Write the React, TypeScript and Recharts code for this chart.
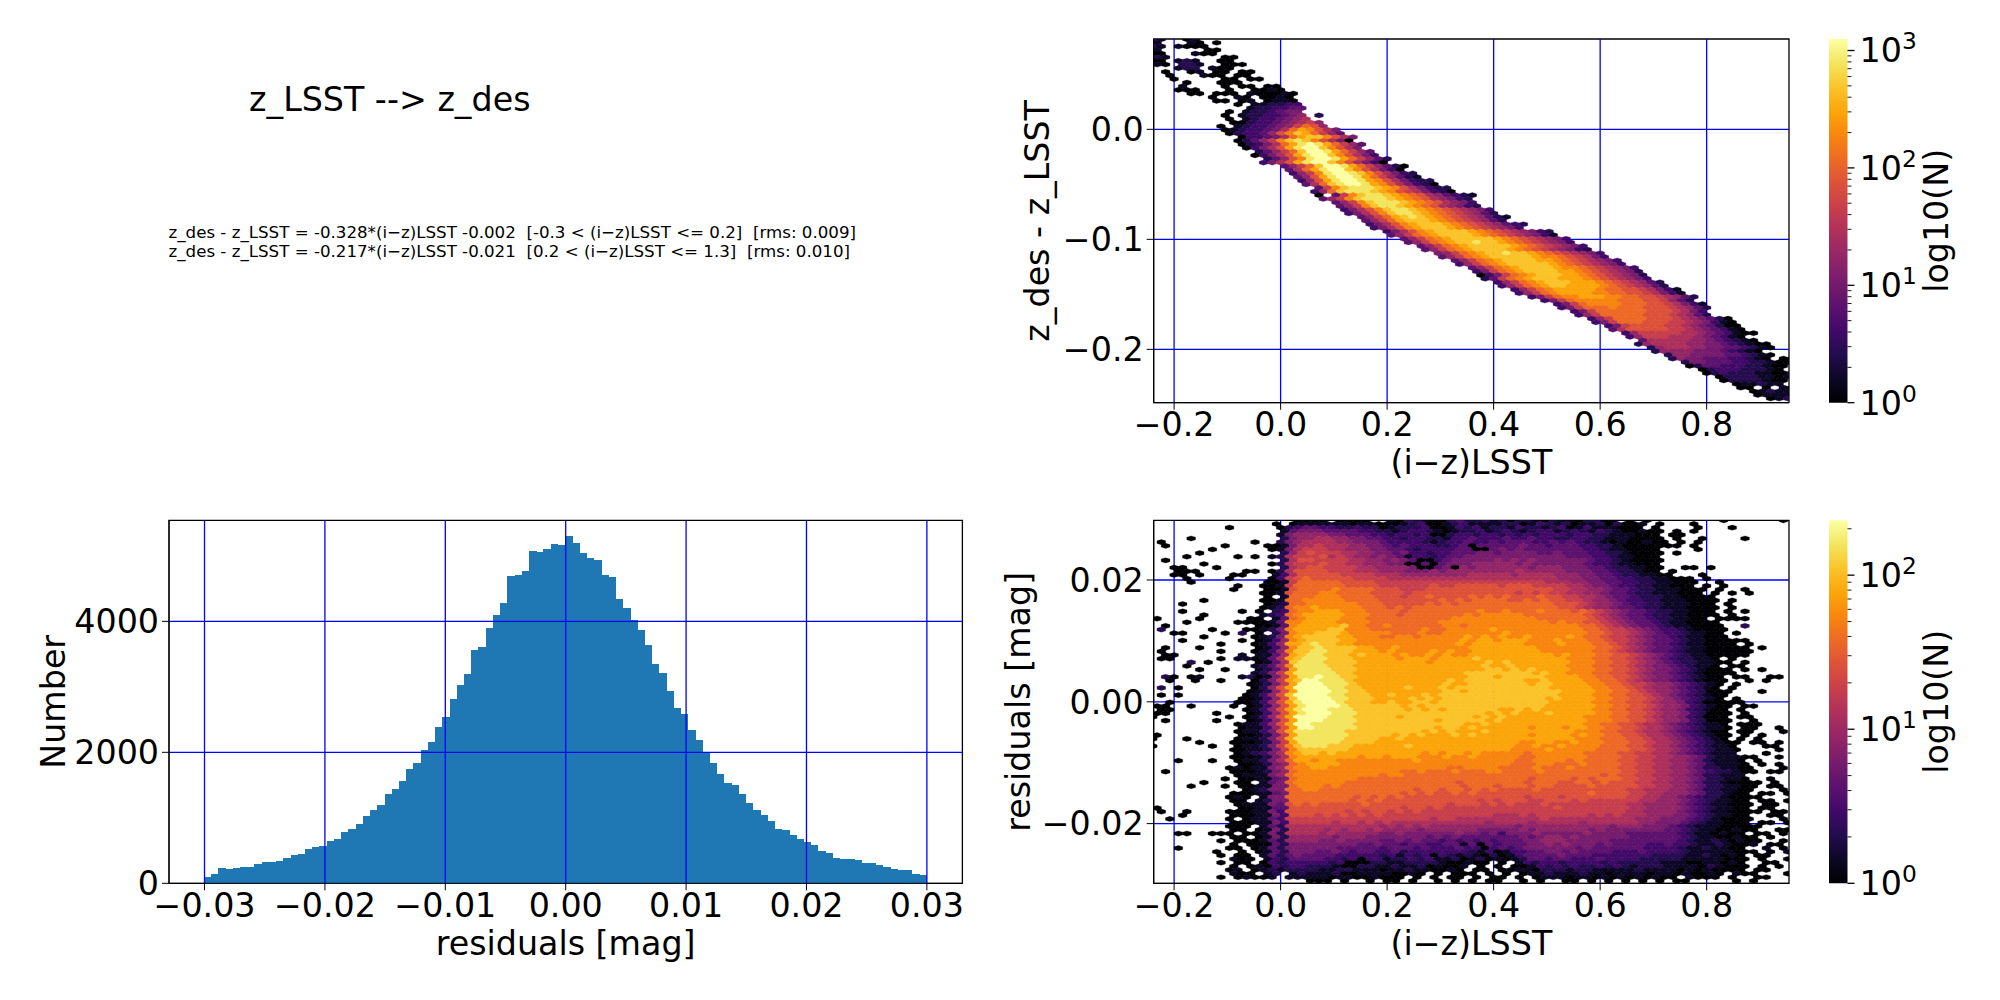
import { ComposedChart, ScatterChart, Scatter, Bar, Line, XAxis, YAxis, ReferenceLine, ReferenceArea } from 'recharts';

const FONT = '"DejaVu Sans", sans-serif';
const TICK = { fill: '#000', fontSize: 33.3, fontFamily: FONT };
const LABEL = { fill: '#000', fontSize: 33.3, fontFamily: FONT, textAnchor: 'middle' as const };

// inferno, sampled in 16 steps. The hex digits in the rows below index this list.
const shades = ['#000004', '#0c0826', '#240c4f', '#420a68', '#5c126e', '#781c6d', '#932667', '#ad305c', '#c73e4c', '#dd513a', '#ed6925', '#f8850f', '#fca50a', '#fbc32a', '#f3e55e', '#fcffa4'];

const title = 'z_LSST --> z_des';
const fitLines = [
  'z_des - z_LSST = -0.328*(i\u2212z)LSST -0.002  [-0.3 < (i\u2212z)LSST <= 0.2]  [rms: 0.009]',
  'z_des - z_LSST = -0.217*(i\u2212z)LSST -0.021  [0.2 < (i\u2212z)LSST <= 1.3]  [rms: 0.010]',
];

const histCounts = [92, 127, 219, 204, 219, 234, 244, 280, 310, 310, 326, 372, 417, 433, 509, 539, 555, 631, 662, 768, 814, 891, 1013, 1104, 1181, 1349, 1425, 1547, 1730, 1822, 2020, 2142, 2371, 2524, 2799, 3013, 3181, 3547, 3593, 3883, 4081, 4265, 4677, 4692, 4753, 5058, 5043, 5089, 5165, 5150, 5287, 5181, 5028, 4952, 4921, 4692, 4661, 4326, 4188, 4005, 3852, 3623, 3333, 3196, 2921, 2661, 2570, 2326, 2173, 2000, 1822, 1654, 1517, 1486, 1349, 1211, 1104, 1028, 936, 814, 799, 723, 662, 616, 570, 478, 448, 372, 356, 356, 341, 295, 295, 265, 234, 204, 188, 188, 127, 112];
const histTicksX = [-0.03, -0.02, -0.01, 0, 0.01, 0.02, 0.03];
const histTicksY = [0, 2000, 4000];

const colorTicksX = [-0.2, 0, 0.2, 0.4, 0.6, 0.8];
const fitTicksY = [-0.2, -0.1, 0];
const resTicksY = [-0.02, 0, 0.02];
const fitBarTicks = [1, 2, 3, 4, 5, 6, 7, 8, 9, 10, 20, 30, 40, 50, 60, 70, 80, 90, 100, 200, 300, 400, 500, 600, 700, 800, 900, 1000];
const resBarTicks = [1, 2, 3, 4, 5, 6, 7, 8, 9, 10, 20, 30, 40, 50, 60, 70, 80, 90, 100, 200];

// top right hexbin, one row per lattice line from the top: first column, then shades
const fitStarts = [0, 0, 0, 0, 0, 0, 0, 0, 0, 0, 0, 0, 0, 0, 0, 0, 0, 0, 10, 10, 9, 8, 9, 9, 8, 8, 9, 9, 10, 10, 11, 11, 12, 12, 13, 15, 16, 16, 17, 17, 18, 19, 19, 19, 20, 21, 22, 22, 23, 24, 25, 25, 26, 27, 28, 29, 30, 31, 32, 33, 34, 35, 36, 37, 38, 38, 39, 40, 41, 42, 43, 44, 46, 47, 48, 49, 50, 51, 52, 53, 54, 55, 56, 57, 57, 58, 59, 60, 61, 62, 63, 64, 65, 66, 67, 68, 69, 70, 71, 72];
const fitRows = [
  '21..01', '1...10.0', '21.1000', '1.....00', '00...100', '21......00', '00.121..00', '10.221..000', '...122.100', '.0..01.00.00',
  '..0...100.00', '..0.....00.00', '....0...000', '...1....0.00.00', '...000...0..0010', '....00.000.100010', '.......0..10.0010', '.......00.01.0110',
  '0.112233', '.1223344', '0.1223455', '0.12233456.2', '0.12334567', '00233456786', '0.12334568a96', '01233457acb975', '0233469bdca864', '.033457acddb975',
  '02468bdedb9750', '02357acefeca864', '03579ceffdb975', '.2468adffeca864', '03579ceffdb9753', '.2469beffeca8642', '3579ceffdb97530', '468adffeca86420',
  '47aceffdb97530', '368beffedb97532', '469ceffeca86421', '369ceffecb975322', '47adeffecb975320', '48bdeeedcb975322', '36adeeedcb9875320', '0.48bdeedcba9764321',
  '468bdeeedcba976532', '468bdeeedcba97653', '468bdeedcba976532', '3579bdeedcba987653', '3579bdeedcba987642', '468acdedcba9876421', '468acdddcba987642', '3579bcdddcba9876432',
  '3579bcdddcba987653', '3579bcddddcba9876532', '468abcddddcba9876531', '468abcdddddcba987653', '468abcddeddcba987653', '468abcdddddcba987653', '468abcddddcba9876532', '568abcddeddcba987653',
  '468abcdddddcbba98753', '468abcddddccba987653', '368abcdddddcba987653', '468abcddddcbba987653', '358abcddddccba987652', '0358abcdddccba987652', '248abcdddcccba987653', '368abcdddcccba987642',
  '368abcddccccba987642', '368abcccccbaa9987531', '368abccccbbaa9987531', '358abbcccbbaa9987642', '358abbbbbaaa998642', '358abbbbaaa9987531', '358aaabaaa99987642', '358aaaaaa9998753',
  '368aaaaa99987642', '368aaaa9998765420', '358aaa99988765310', '3589999887654200', '4799999887654310', '3688888776543100', '36888777654310', '47777766543210',
  '2677776655432100', '267776655443210', '2666655543210', '2665555443210', '265544433210.00', '2554443322100', '024433322100', '0233322210.1',
  '02322211001', '0222211011', '02222100', '011211.0', '00.0.1010', '0121101', '011101', '0120',
];

// bottom right hexbin, 75 columns written in groups of five, from the top row down
const resRows = [
  '..... ..... ..... ..000 0.000 0..10 32100 34223 12022 10211 02200 .0.0. ..... ..0.. ....0',
  '..... ..... ....0 .0111 11101 10001 23001 23111 12201 32120 11202 001.0 ...0. ..... .....',
  '..... ....0 ..... 02344 33223 22012 22300 13231 22132 21230 13111 000.0 ....0 ...0. .....',
  '..... ..... ..... 14555 44443 32212 33210 12231 23212 33123 21321 00100 .0.0. ..... .....',
  '..... ..... ..... 15666 65544 43323 32300 23323 32323 23332 33221 11000 .00.. ..... .....',
  '....0 ..... ..... 25667 76655 44332 33221 33433 34334 33223 32211 10000 .0..0 ....0 .....',
  '.0... ..... ..0.. 25677 77665 55433 33212 33433 43444 33434 32210 10010 0.0.0 ..... .....',
  '.0... ...0. ...00 15778 77766 55434 33322 34044 44454 43444 33221 00000 00.0. ..... .....',
  '..... ..0.. ....0 15788 87766 65544 32333 34400 45454 44444 43321 10000 ....0 ..... .....',
  '..... 0.... ..... 26898 88776 65545 33233 44455 45555 44544 43322 10000 .0... ..... .....',
  '....0 ..... 0.0.1 27888 97876 65654 13323 44555 55555 55554 44332 11000 ..... ..... .....',
  '.0... ..... ..... 27998 88877 66565 40034 55555 65656 55555 54332 10000 ..... ..... .....',
  '..... .0... ....0 27888 98877 66655 00404 55566 66656 55555 54332 11000 ..... ..... .....',
  '..00. ..0.. ..... 27899 88887 76666 50045 06566 66665 66655 54432 21100 ..00. 0.... .....',
  '...00 0.... .00.0 27999 98887 77666 55565 66666 66676 66665 55443 22100 .0... ..... .....',
  '..00. 0...0 0...1 37999 99888 87776 66666 66777 77677 77666 55443 22110 0...0 ..... .....',
  '....0 ....0 ....0 389a9 99998 88877 77777 77777 77777 77766 65544 33221 1000. 0.... .....',
  '....0 ..... ...00 18aaa aa999 98888 88888 88888 88888 87776 65544 33221 1000. .0... .....',
  '..... ..... 0..00 18aaa aaa99 99888 88898 89999 98999 88887 76554 33221 1000. 0.0.. .....',
  '..... ....0 ...00 19aaa abaaa a9998 88999 99999 99999 99887 76654 43221 11000 .0..0 .....',
  '..... ..... ...00 19aaa bbaaa a9999 89999 99999 99989 89887 76654 43221 11000 .0.0. 0....',
  '..... ..... ...0. 1aaab bbaaa a9998 99a99 99a9a 9a999 a9988 77654 43222 11000 0.... .....',
  '..... .0... ...00 1aabb bbbaa aa999 9999a 9a9aa aa99a 9a998 87665 43322 11100 00.0. .....',
  '...0. ..... ...01 2aabb bbbba aa999 99a9a 9aaaa aaaaa aa999 87665 43322 11100 0.0.. .....',
  '..... ..... ...01 2abbc bbbbb aaa9a 9aaaa aaaaa aaaaa aaa99 87665 44322 11100 00.0. .....',
  '...0. ..... 0.0.2 3abbc ccbbb aaaa9 aaaaa aaaba abaaa baaa9 a9876 54432 21100 0.0.0 .....',
  '..... .0... ...12 3abcc cccbb baaa9 aaaaa aabab bbbba aaaaa a9876 54432 21100 00.0. .....',
  '0.... 0.... .00.1 4abcc ccbbb aaaaa aaaaa bbbbb bbbbb aaaaa a9876 54432 21100 .0000 .....',
  '....0 ..... 00001 4bbcc ccbbb baaaa aaaab bbbbb bbbbb bbaba a9987 65443 21100 00... .....',
  '.0... ..... ..001 4bccc ccdbb aabaa aaaab babbb bbbbb bbbbb aa987 65443 21100 00..2 .....',
  '.2... ..0.. .0012 5bccc cddbb baaaa aabaa bbbbb cbbbb bbbbb baa98 87654 33210 000.. .....',
  '..00. ...0. 2.0.2 5bccd ddcbb bbbaa abaab bbbbb bcbbb bbbbb baa98 87654 33211 00.0. .....',
  '..... .0... ..012 5bcdd ddccb bbaab babbb bbcbc bcbbc bbbbc baa98 87654 43211 000.. .....',
  '...0. ..... 0.013 6bcdd ddccb bbbbb bbbbb bcbcc bcccb bbcbb baa98 87654 43211 00000 .....',
  '..... ...0. ..013 6ccde ddccb bbbbb bbbbb bcbcc ccccb bbbcb bbaa9 87654 43211 0000. 0....',
  '.0... 0.... ..013 6bdde ddddc cbbcb bbbbb bbccc ccccc bbbbb bbaa9 87654 43211 00000 .0...',
  '.0... ...0. ..013 6bdde edddc ccbcb bbbcb cbbcc ccccc cbbbb bbaa9 87654 43211 00000 0....',
  '.00.. ..... 1.114 7cdee dddcd cccbc bbcbc bbccc ccccc ccbcb bbaa9 98765 43211 00000 .....',
  '.00.. ...0. 11014 7cdee edddc ccccb cccbc cccdc ccccc ccccb bbaa9 98765 43221 10.0. .....',
  '....2 .0... ..014 7deee ddddc ccccc ccbcc ccccd cdccc ccccb bbaa9 98765 43221 100.0 .....',
  '....0 ..... ..124 7beee edddc ccccc ccccc ccccd ccdcc ccccb bbaa9 98765 54321 10.00 .....',
  '..... 0..0. ..124 7ceee edddc ccccc ccccc ccccd dcdcd ccccb bbaa9 98765 54321 000.0 .0...',
  '..... ..... ..125 8ceee eeddc ccccc ccccc ccddd ddddd cdccb bbaa9 98765 54321 0000. .....',
  '.20.0 1.... 12015 8ceef eeddc ccccc ccccc ccddd cdddd dcccc bbaa9 98765 54321 00.00 ..00.',
  '..0.. 0..0. ..025 8cdff eeedc ccccc ccccc dcddd ddddc cdccc cbbaa 98765 54321 000.. 0.0..',
  '..... ..... .0125 8cfff eeedc ccccc ccccd ccddd ddddc ddccc cbbaa 98876 65432 10.0. .....',
  '.2.0. ..... ..026 9cfff feedd ccccc dcccd cdddd ddddd ddccc ccbba a9876 65432 10.0. .....',
  '..... ..... .0126 9cfff feedd ccccc ccccd dcddd ddddd dddcc ccbba a9876 65432 000.. .0...',
  '.0.0. ..... .0136 9dfff feedd dccdc ccdcd ddddd ddddd dddcc ccbba a9987 65432 100.. .....',
  '..... ..... 00136 9dfff feedd dcccc dcdcd ddddd ddddd dcdcc ccbba a9987 65432 10.0. .....',
  '..0.. ..... 00136 9ceff ffedd dccdc cddcd ddddd ddddd ddccc ccbba a9987 66532 00000 .....',
  '00..0 ....0 .0136 9ceff ffedd ddddc dcddd ddddd ddddd dcccc ccbba a9987 66532 100.0 0....',
  '.00.. ..... .0136 9ceff feeed ddddd cdcdc ddddd dccdc dcccc ccbba a9987 66532 100.0 .....',
  '00... ..0.. .0136 9ceff feeed ddddd ddddd ddddc dcdcc cdccc ccbba a9987 66532 000.0 .....',
  '0.... ....0 .0136 9cfff feeed ddddc ddddd dddcd cdccc ccccc cbbba a9987 66532 000.0 0....',
  '.0... ..0.. .0136 9cfff eeeed ddddd dddcd ddddc dcccc ccccc cbbba a9987 66532 000.. 0....',
  '..... ..... 01136 9cffe eeeed ddddd ddddd ddccd ccccc ccccc cbbaa 99877 65432 110.0 00...',
  '..... ..... 01136 9cffe eeeed ddddd dddcd dcdcc ccccb cccbc cbbaa 99877 65432 110.0 0..0.',
  '..... ..... 01135 9ceee eeedd ddddd ddcdc dcccd ccccc ccccc bbbaa 99877 65432 100.0 0...0',
  '0.... ..... 00125 8ceee eeedd dddcd cdccc dcdcc ccccb ccccb cbbaa 99877 65432 100.0 .0...',
  '0...0 ..... 01125 8ceee eeedd ddccd ccccc ccccc ccccc ccccc bbbaa a9987 76543 210.0 .0...',
  '..... 0...0 00125 8ceee eeddd dcccc ccccc ccccc cccbb ccbbc bbbaa a9987 76543 2100. 00.0.',
  '0.... ..0.. 01125 8bdee edddc ccccc dcccc ccccc cccbb cbbcb bbbaa a9987 76543 2110. ..00.',
  '..... ....0 01125 8bddd dddcc ccccc ccccc ccccc ccbbb bcbbb bbaaa a9987 76543 2110. ...0.',
  '..... ..... 01235 7bcdd cdccc ccccc ccbcb ccbcb bbbba bbbbb baaaa 99887 76543 2111. ..0..',
  '..... ....0 00125 7bccc ccccb ccbcc cbbbc bbcbb bbbaa bbbbb baaaa 99887 76654 21110 0..0.',
  '...0. ..0.. 01125 7accb ccbbb bbbbb bcbbb bbbbb bbbaa bbbba baaaa 99887 76654 21110 .0...',
  '..... ..... 00125 6abcc ccbbb bbbbb bbbbb bbbbb bbaaa bbaaa baaaa 99887 76654 21110 .0.0.',
  '..... ....0 10115 6abbc cbbbb bbbbb bbbbb aabbb baaaa baaab aaaaa 99887 76654 22110 0...0',
  '.0... ....0 00125 6abbb bbbbb bbbba abaaa baaab baaaa baaaa aaaaa 99887 76654 32210 0.00.',
  '..... ..... 01115 6abbb bbbbb bbabb aaaaa aaaaa aaaaa aaaaa aaa9a 99887 76654 22111 .....',
  '..... ...0. 00114 5abbb bbbba aaaaa aaaaa aaaaa aaaa9 aaaa9 a9aaa 99887 76654 22110 ..0..',
  '..... .0... 00.14 5abbb bbbaa aaaaa aaaaa a9aaa aaaa9 aaa99 aa9a9 99887 76654 22100 00.0.',
  '....0 ...0. 00115 5abbb abaaa aaaaa aaaaa a9aaa 9aaa9 aa999 9a999 99887 76654 22110 0.00.',
  '..... ..... .0125 5aabb aaaaa aaaaa a9aa9 aa9a9 a9999 a9999 99999 98877 76654 22110 0...0',
  '..... ....0 00114 5aaaa aaaaa aaaa9 a9a99 a9a99 99999 99999 9a999 98877 66654 22100 .00.0',
  '..... ....0 10.15 5aaaa aaaa9 a9a9a 99999 99999 99998 99989 99999 98877 66543 22100 00...',
  '..... ....0 0.125 5aaaa aaa9a 9a999 99999 99989 89998 89998 98888 88776 66543 21100 .00.0',
  '..... ..... 01115 49a9a 99999 a9999 99999 89998 98988 89888 88888 87766 66543 21100 0.00.',
  '0.... ..... 00114 49999 99999 99998 99898 88888 88888 88988 88888 87766 66543 21100 .00..',
  '.0..0 ....0 00115 39999 99989 89989 89888 88888 88888 88888 88888 87766 66543 21100 00.00',
  '...0. ....0 00115 39998 98989 89888 88888 88888 77787 88888 87878 77766 65543 21100 ..00.',
  '..0.. ....0 .0114 38888 88888 88888 88878 87777 77777 78777 77777 77666 55543 21000 0...0',
  '..... ....0 00115 38888 87887 87877 77777 77776 77776 77777 67777 77665 55432 11000 .00.0',
  '..... ....0 00.14 27777 77777 77676 76766 66666 66656 66666 66665 66655 54321 11000 00...',
  '..... ....0 0.015 27777 67677 67666 65666 66655 55565 66666 65655 55555 44321 10010 0..00',
  '...00 ..000 .0015 27777 67666 66556 55555 56554 53555 65555 56555 54444 44321 10100 .00.0',
  '..... ....0 0.015 26666 65666 55555 55454 54444 44454 56656 55555 54444 44321 10010 0.0..',
  '..... ...0. 00014 26666 55655 55445 45443 43434 34445 56665 55554 44444 44321 12101 00..0',
  '..... ....0 .0004 25555 55554 45443 44334 41404 34445 56565 55454 44433 43321 12100 1.00.',
  '...0. ....0 0.014 25555 55444 44344 43433 34330 34345 55555 45444 44433 33211 21100 ..1.0',
  '..... ..0.. 0.014 25554 45434 43342 33333 33213 01334 45545 44443 33433 33211 11100 0.0.1',
  '..... ...0. 00.14 24544 44333 33231 32303 21210 20134 44454 44333 33332 22211 21010 .00..',
  '..... ....1 00.13 24444 33230 33122 32311 20120 10124 43443 33433 33222 22111 11000 .0..0',
  '..... ...0. 00.03 23333 32300 02211 22221 00100 .0.13 23323 33323 22222 11100 11010 ..00.',
  '..... ....0 .0103 23322 21002 21121 12010 01.0. 0.001 32323 22323 21222 11110 21000 .0.0.',
  '..... ....0 1.012 12222 11221 11011 21100 10.00 .0011 02221 22111 11211 11010 10000 .00..',
  '..... ....1 00.12 .1211 12001 11100 10.0. 000.0 .0.01 12111 21101 11101 10100 10.10 0...0',
  '..... ...0. 01001 .1111 10110 01000 .0.0. 00.0. 00.0. 01110 11010 10101 00.10 00.0. .00..',
  '..... ..... ..... ...00 0.0.. 0.00. 0..0. 0.0.0 0..0. 0..00 .0.0. 0.0.0 .00.. ...0. 0....',
];

type Cell = { x: number; y: number; shade: number };

const COL_STEP = 0.016;
const FIRST_COL = -0.24;

const cellsFrom = (rows: string[], starts: number[] | null, top: number, rowStep: number) => {
  const cells: Cell[] = [];
  rows.forEach((raw, row) => {
    const col = starts ? starts[row] : 0;
    raw.replace(/ /g, '').split('').forEach((ch, i) => {
      if (ch === '.') return;
      cells.push({
        x: FIRST_COL + (col + i + (row % 2 ? 0.5 : 0)) * COL_STEP,
        y: top - row * rowStep,
        shade: parseInt(ch, 16),
      });
    });
  });
  return cells;
};

const fitCells = cellsFrom(fitRows, fitStarts, 0.082, 0.0033);
const resCells = cellsFrom(resRows, null, 0.0298, 0.000598);

const histData = histCounts.map((count, i) => ({ center: -0.03 + (i + 0.5) * 0.0006, count }));

const HexCell = (props: any) => {
  const { cx, cy, payload } = props;
  const c = shades[payload.shade];
  const pts = [[0, -2.6], [4.35, -1.3], [4.35, 1.3], [0, 2.6], [-4.35, 1.3], [-4.35, -1.3]].map(([a, b]) => `${cx + a},${cy + b}`).join(' ');
  return <polygon points={pts} fill={c} stroke={c} strokeWidth={0.3} />;
};

const minus = (s: string) => s.replace('-', '\u2212');

const gridLines = (xs: number[], ys: number[]) => [
  ...xs.map((v) => <ReferenceLine key={`x${v}`} x={v} stroke="#0000ff" strokeWidth={1.3} />),
  ...ys.map((v) => <ReferenceLine key={`y${v}`} y={v} stroke="#0000ff" strokeWidth={1.3} />),
];

function HexPanel(props: { top: number; boxH: number; plotTop: number; plotH: number; cells: Cell[]; yDomain: number[]; yTicks: number[]; digits: number; yLabel: string; labelX: number }) {
  const { top, boxH, plotTop, plotH, cells, yDomain, yTicks, digits, yLabel, labelX } = props;
  return (
    <div style={{ position: 'absolute', left: 1000, top }}>
      <ScatterChart width={799} height={boxH} margin={{ top: plotTop, right: 10, bottom: 0, left: 0 }}>
        <XAxis
          type="number"
          dataKey="x"
          domain={[-0.2383, 0.9546]}
          ticks={colorTicksX}
          allowDataOverflow
          height={boxH - plotTop - plotH}
          tick={TICK}
          tickSize={7}
          tickMargin={3}
          interval={0}
          stroke="#000"
          tickFormatter={(v: number) => minus(v.toFixed(1))}
          label={{ value: '(i\u2212z)LSST', position: 'insideTop', offset: 48, style: LABEL }}
        />
        <YAxis
          type="number"
          dataKey="y"
          domain={yDomain}
          ticks={yTicks}
          allowDataOverflow
          width={153.7}
          tick={TICK}
          tickSize={7}
          tickMargin={3}
          interval={0}
          stroke="#000"
          tickFormatter={(v: number) => minus(v.toFixed(digits))}
          label={{ value: yLabel, angle: -90, position: 'insideLeft', offset: labelX, style: LABEL }}
        />
        <Scatter data={cells} shape={HexCell} isAnimationActive={false} />
        {gridLines(colorTicksX, yTicks)}
        <ReferenceArea x1={-0.2383} x2={0.9546} y1={yDomain[0]} y2={yDomain[1]} fill="none" stroke="#000" strokeWidth={1.3} />
      </ScatterChart>
    </div>
  );
}

const BarTick = (props: any) => {
  const { x, y, payload } = props;
  const v = payload.value as number;
  const exp = Math.log10(v);
  const major = Number.isInteger(Math.round(exp * 1000) / 1000);
  return (
    <g>
      <line x1={x} x2={x + (major ? 7 : 4)} y1={y} y2={y} stroke="#000" strokeWidth={major ? 1.3 : 0.9} />
      {major && (
        <text x={x + 12} y={y + 12} fontFamily={FONT} fontSize={33.3} fill="#000">
          10
          <tspan dy={-13} fontSize={23.3}>{Math.round(exp)}</tspan>
        </text>
      )}
    </g>
  );
};

function ColorBar(props: { id: string; top: number; boxH: number; plotTop: number; plotH: number; vmax: number; ticks: number[] }) {
  const { id, top, boxH, plotTop, plotH, vmax, ticks } = props;
  const ends = [{ a: 0, n: 1 }, { a: 1, n: vmax }];
  return (
    <div style={{ position: 'absolute', left: 1828.5, top }}>
      <ComposedChart width={171} height={boxH} data={ends} margin={{ top: plotTop, right: 0, bottom: boxH - plotTop - plotH, left: 0 }}>
        <defs>
          <linearGradient id={id} x1="0" y1="1" x2="0" y2="0">
            {shades.map((c, i) => (
              <stop key={c} offset={i / (shades.length - 1)} stopColor={c} />
            ))}
          </linearGradient>
        </defs>
        <XAxis type="number" dataKey="a" domain={[0, 1]} hide />
        <YAxis
          orientation="right"
          scale="log"
          type="number"
          dataKey="n"
          domain={[1, vmax]}
          ticks={ticks}
          interval={0}
          allowDataOverflow
          width={152.5}
          tick={BarTick}
          tickLine={false}
          tickSize={0}
          tickMargin={0}
          axisLine={false}
          label={{ value: 'log10(N)', angle: -90, position: 'insideLeft', offset: 89, style: LABEL }}
        />
        <Line dataKey="n" stroke="none" dot={false} isAnimationActive={false} />
        <ReferenceArea x1={0} x2={1} y1={1} y2={vmax} fill={`url(#${id})`} fillOpacity={1} stroke="none" />
      </ComposedChart>
    </div>
  );
}

export default function App() {
  return (
    <div style={{ position: 'absolute', left: 0, top: 0, width: 2000, height: 1000, background: '#fff', overflow: 'hidden' }}>
      <div style={{ position: 'absolute', left: 249, top: 80, fontFamily: FONT, fontSize: 33.3, whiteSpace: 'pre', lineHeight: '40px' }}>{title}</div>
      {fitLines.map((line, i) => (
        <div key={line} style={{ position: 'absolute', left: 168.5, top: 223 + i * 18.5, fontFamily: FONT, fontSize: 16.67, whiteSpace: 'pre', lineHeight: '20px' }}>
          {line}
        </div>
      ))}

      <HexPanel top={0} boxH={500} plotTop={39} plotH={363.7} cells={fitCells} yDomain={[-0.2485, 0.0821]} yTicks={fitTicksY} digits={1} yLabel="z_des - z_LSST" labelX={37} />
      <ColorBar id="fitBar" top={0} boxH={500} plotTop={39} plotH={363.7} vmax={1253} ticks={fitBarTicks} />

      <HexPanel top={500} boxH={500} plotTop={20.3} plotH={363} cells={resCells} yDomain={[-0.0298, 0.0298]} yTicks={resTicksY} digits={2} yLabel="residuals [mag]" labelX={18} />
      <ColorBar id="resBar" top={500} boxH={500} plotTop={20.3} plotH={363} vmax={227} ticks={resBarTicks} />

      <div style={{ position: 'absolute', left: 0, top: 500 }}>
        <ComposedChart width={972.4} height={500} data={histData} margin={{ top: 20.3, right: 10, bottom: 0, left: 0 }}>
          <XAxis
            type="number"
            dataKey="center"
            domain={[-0.03295, 0.03295]}
            ticks={histTicksX}
            interval={0}
            height={116.7}
            tick={TICK}
            tickSize={7}
            tickMargin={3}
            stroke="#000"
            tickFormatter={(v: number) => minus(v.toFixed(2))}
            label={{ value: 'residuals [mag]', position: 'insideTop', offset: 48, style: LABEL }}
          />
          <YAxis
            type="number"
            domain={[0, 5543]}
            ticks={histTicksY}
            interval={0}
            width={169}
            tick={TICK}
            tickSize={7}
            tickMargin={3}
            stroke="#000"
            label={{ value: 'Number', angle: -90, position: 'insideLeft', offset: 53, style: LABEL }}
          />
          <Bar dataKey="count" fill="#1f77b4" stroke="#1f77b4" strokeWidth={1.2} shapeRendering="crispEdges" barSize={8} isAnimationActive={false} />
          {gridLines(histTicksX, histTicksY.slice(1))}
          <ReferenceArea x1={-0.03295} x2={0.03295} y1={0} y2={5543} fill="none" stroke="#000" strokeWidth={1.3} />
        </ComposedChart>
      </div>
    </div>
  );
}
